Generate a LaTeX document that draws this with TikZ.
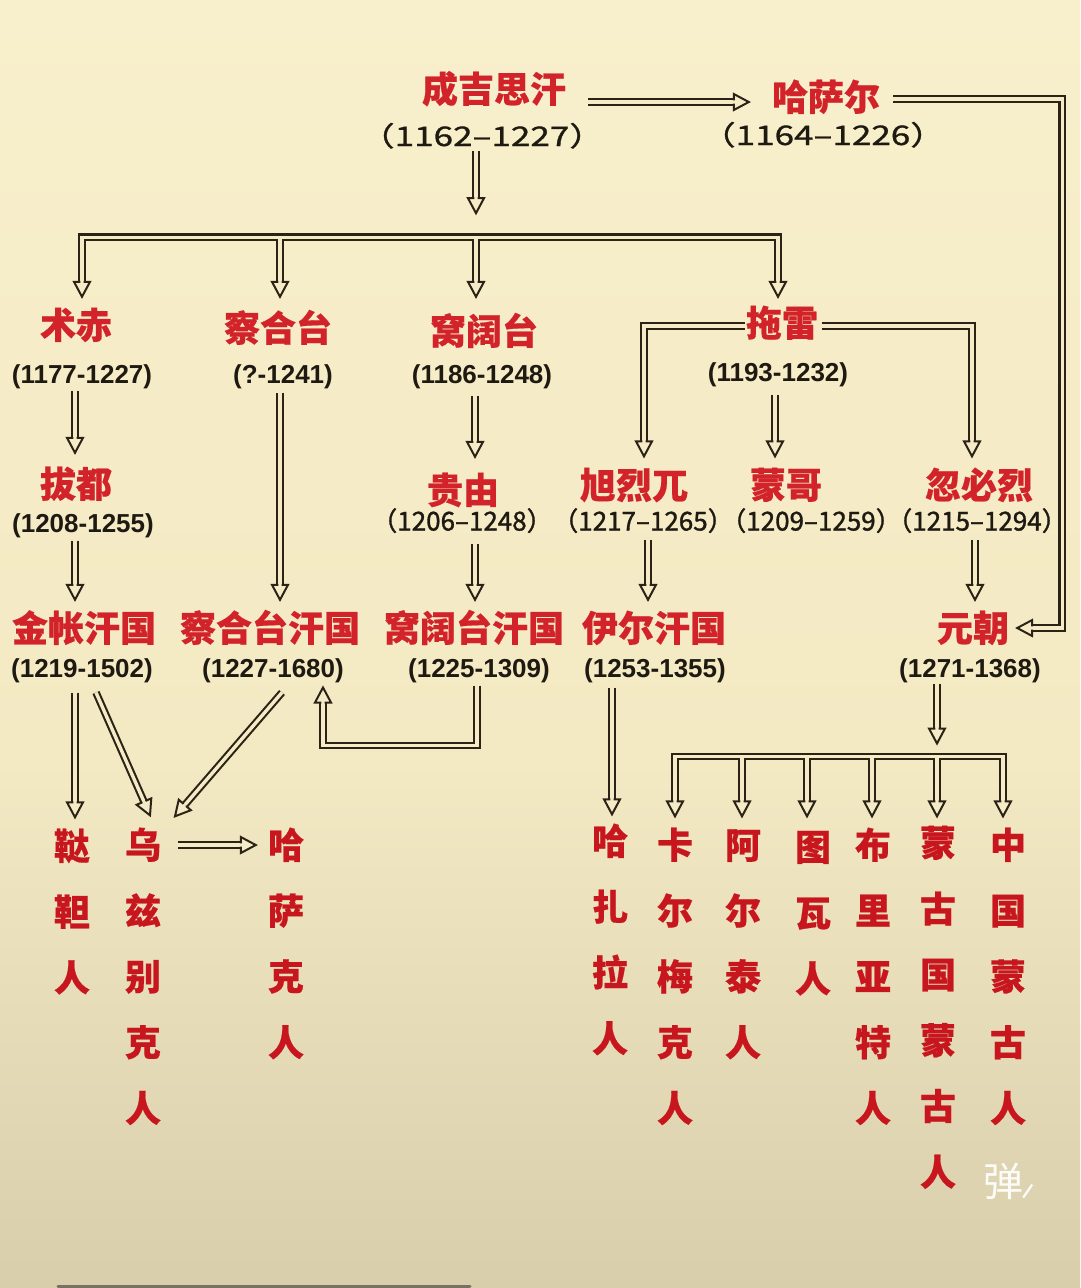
\documentclass[tikz,border=0pt]{standalone}
\usepackage{fontspec}
\usetikzlibrary{calc}
\newfontfamily\cjk{Noto Sans CJK SC}[BoldFeatures={FakeBold=0.5}]
\newfontfamily\cjkd{Noto Sans CJK SC}[FakeBold=1.3]
\newfontfamily\cjkwide{Noto Sans CJK SC}[FakeStretch=1.3, FakeBold=1.1]
\newfontfamily\arl{Liberation Sans}
\definecolor{bgtop}{HTML}{F8EFCC}
\definecolor{bgmid}{HTML}{F3E9C3}
\definecolor{bgbot}{HTML}{D8CEAC}
\definecolor{innerc}{HTML}{F5ECC7}
\definecolor{arc}{HTML}{2B2416}
\definecolor{nred}{HTML}{D2232A}
\definecolor{bred}{HTML}{C8161F}
\definecolor{datec}{HTML}{1E1A12}
\tikzset{
  nm/.style={font=\cjk\bfseries\fontsize{36}{36}\selectfont, text=nred, inner sep=0pt, text height=30pt, text depth=3pt},
  dtA/.style={font=\arl\bfseries\fontsize{26}{26}\selectfont, text=datec, inner sep=0pt, text height=18.6pt, text depth=0pt},
  dtB/.style={font=\cjkd\fontsize{26}{26}\selectfont, text=datec, inner sep=0pt, text height=19pt, text depth=0pt},
  dtW/.style={font=\cjkwide\fontsize{27}{27}\selectfont, text=datec, inner sep=0pt, text height=20pt, text depth=0pt},
  bt/.style={font=\cjk\bfseries\fontsize{36}{36}\selectfont, text=bred, inner sep=0pt, text height=30pt, text depth=3pt},
  dbl/.style={draw=arc, line width=2.1pt, double=innerc, double distance=3.4pt, line join=miter},
  hd/.pic={\path[fill=innerc, draw=arc, line width=2pt, line join=miter]
     (-15pt,1.7pt) -- (-15pt,8pt) -- (0pt,0pt) -- (-15pt,-8pt) -- (-15pt,-1.7pt);},
}
\newcommand\hdat[2]{\path let \p1=#1, \p2=#2, \n1={atan2(\y2-\y1,\x2-\x1)} in #2 pic[rotate=\n1]{hd};}
\newcommand\sarr[2]{\coordinate (aS) at #1; \coordinate (aT) at #2;
  \draw[dbl] (aS) -- ($(aT)!15pt!(aS)$); \hdat{(aS)}{(aT)}}
\begin{document}
\begin{tikzpicture}[x=1pt,y=-1pt]
\useasboundingbox (0,0) rectangle (1080,1288);
\shade[top color=bgtop, bottom color=bgmid] (0,0) rectangle (1080,761);
\shade[top color=bgmid, bottom color=bgbot] (0,760) rectangle (1080,1288);

% ---------- nodes ----------
\node[nm] (cj) at (494,89) {成吉思汗};
\node[dtW] (cjd) at (482,136) {（1162–1227）};
\node[nm] (hs) at (826,97) {哈萨尔};
\node[dtW] (hsd) at (823,135) {（1164–1226）};
\node[nm] (zc) at (76,325) {术赤};
\node[dtA] (zcd) at (82,374) {(1177-1227)};
\node[nm] (ch) at (278,328) {察合台};
\node[dtA] (chd) at (283,374) {(?-1241)};
\node[nm] (wk) at (484,331) {窝阔台};
\node[dtA] (wkd) at (482,374) {(1186-1248)};
\node[nm] (tl) at (782,323) {拖雷};
\node[dtA] (tld) at (778,372) {(1193-1232)};
\node[nm] (bd) at (76,484) {拔都};
\node[dtA] (bdd) at (83,523) {(1208-1255)};
\node[nm] (gy) at (463,490) {贵由};
\node[dtB] (gyd) at (462,521) {（1206–1248）};
\node[nm] (xl) at (634,485) {旭烈兀};
\node[dtB] (xld) at (643,521) {（1217–1265）};
\node[nm] (mg) at (786,485) {蒙哥};
\node[dtB] (mgd) at (811,521) {（1209–1259）};
\node[nm] (hb) at (979,485) {忽必烈};
\node[dtB] (hbd) at (977,521) {（1215–1294）};
\node[nm] (jz) at (84,628) {金帐汗国};
\node[dtA] (jzd) at (82,668) {(1219-1502)};
\node[nm] (chk) at (270,628) {察合台汗国};
\node[dtA] (chkd) at (273,668) {(1227-1680)};
\node[nm] (wkk) at (474,628) {窝阔台汗国};
\node[dtA] (wkkd) at (479,668) {(1225-1309)};
\node[nm] (ye) at (654,628) {伊尔汗国};
\node[dtA] (yed) at (655,668) {(1253-1355)};
\node[nm] (yc) at (973,628) {元朝};
\node[dtA] (ycd) at (970,668) {(1271-1368)};

\foreach \nmm/\xx/\yy/\txt in {da/72/846/{鞑,靼,人}, wu/143/845/{乌,兹,别,克,人},
   hsk/286/845/{哈,萨,克,人}, hz/610/841/{哈,扎,拉,人}, ka/675/845/{卡,尔,梅,克,人},
   at/743/845/{阿,尔,泰,人}, tw/813/847/{图,瓦,人}, bl/873/845/{布,里,亚,特,人},
   mgg/938/843/{蒙,古,国,蒙,古,人}, zg/1008/845/{中,国,蒙,古,人}}{
  \foreach \ch [count=\i] in \txt {
    \node[bt] (\nmm\i) at (\xx,{\yy+65.8*(\i-1)}) {\ch};
  }
}

% ---------- connectors ----------
% Genghis -> Qasar
\sarr{($(cj.east)+(22,13)$)}{($(hs.west)+(-23,5)$)}
% Qasar -> Yuan
\coordinate (tyc) at ($(yc.east)+(8,0)$);
\draw[dbl] ($(hs.east)+(13,2)$) -- ++(169,0) |- ($(tyc)+(15,0)$);
\hdat{($(tyc)+(40,0)$)}{(tyc)}
% Genghis -> sons
\coordinate (bar1) at ($(cjd.south)+(-6,91)$);
\sarr{($(cjd.south)+(-6,5)$)}{($(bar1)+(0,-24)$)}
\coordinate (tzc) at ($(zc.north)+(6,-11.5)$);
\coordinate (tch) at ($(ch.north)+(2,-14.5)$);
\coordinate (twk) at ($(wk.north)+(-8,-17.5)$);
\coordinate (ttl) at ($(tl.north)+(-4,-9.5)$);
\draw[dbl] ($(tzc)+(0,-15)$) |- (bar1) -| ($(ttl)+(0,-15)$)
  (tch |- bar1) -- ($(tch)+(0,-15)$)
  (bar1) -- ($(twk)+(0,-15)$);
\foreach \t in {tzc,tch,twk,ttl}{\hdat{($(\t)+(0,-30)$)}{(\t)}}
% Jochi line
\sarr{($(zcd.south)+(-7,7)$)}{($(bd.north)+(-1,-14.5)$)}
\sarr{($(bdd.south)+(-8,8)$)}{($(jz.north)+(-9,-11.5)$)}
% Chagatai
\sarr{($(chd.south)+(-3,9)$)}{($(chk.north)+(10,-11.5)$)}
% Ogedei
\sarr{($(wkd.south)+(-7,12)$)}{($(gy.north)+(12,-16.5)$)}
\sarr{($(gyd.south)+(13,13.5)$)}{($(wkk.north)+(1,-11.5)$)}
% Tolui
\coordinate (txl) at ($(xl.north)+(10,-12)$);
\coordinate (thb) at ($(hb.north)+(-7,-12)$);
\draw[dbl] ($(tl.west)+(-1,3)$) -| ($(txl)+(0,-15)$);
\draw[dbl] ($(tl.east)+(4,3)$) -| ($(thb)+(0,-15)$);
\hdat{($(txl)+(0,-40)$)}{(txl)}
\hdat{($(thb)+(0,-40)$)}{(thb)}
\sarr{($(tld.south)+(-3,13.5)$)}{($(mg.north)+(-11,-12)$)}
\sarr{($(xld.south)+(5,9.5)$)}{($(ye.north)+(-6,-11.5)$)}
\sarr{($(hbd.south)+(-2,9.5)$)}{($(yc.north)+(2,-11.5)$)}
% Golden Horde / Chagatai Khanate -> peoples
\sarr{($(jzd.south)+(-7,15)$)}{($(da1.north)+(3,-12)$)}
\sarr{($(jzd.south)+(14,15)$)}{($(wu1.north)+(7,-13)$)}
\sarr{($(chkd.south)+(9,15)$)}{($(wu1.north)+(32,-12)$)}
\sarr{($(wu1.east)+(17,0)$)}{($(hsk1.west)+(-12,0)$)}
% Ogedei Khanate -> Chagatai Khanate
\coordinate (tchk) at ($(chkd.south)+(50,10)$);
\draw[dbl] ($(wkkd.south)+(-2,8)$) -- ++(0,60) -| ($(tchk)+(0,15)$);
\hdat{($(tchk)+(0,40)$)}{(tchk)}
% Ilkhanate -> Hazara
\sarr{($(yed.south)+(-43,10)$)}{($(hz1.north)+(2,-10)$)}
% Yuan -> peoples
\coordinate (bar2) at ($(ycd.south)+(-33,79)$);
\sarr{($(ycd.south)+(-33,6)$)}{($(bar2)+(0,-13)$)}
\coordinate (tka) at ($(ka1.north)+(0,-12)$);
\coordinate (tat) at ($(at1.north)+(-1,-12)$);
\coordinate (ttw) at ($(tw1.north)+(-6,-14)$);
\coordinate (tbl) at ($(bl1.north)+(-1,-12)$);
\coordinate (tmg) at ($(mgg1.north)+(-1,-10)$);
\coordinate (tzg) at ($(zg1.north)+(-5,-12)$);
\draw[dbl] ($(tka)+(0,-15)$) |- (bar2) -| ($(tzg)+(0,-15)$)
  (tat |- bar2) -- ($(tat)+(0,-15)$)
  (ttw |- bar2) -- ($(ttw)+(0,-15)$)
  (tbl |- bar2) -- ($(tbl)+(0,-15)$)
  (tmg |- bar2) -- ($(tmg)+(0,-15)$);
\foreach \t in {tka,tat,ttw,tbl,tmg,tzg}{\hdat{($(\t)+(0,-30)$)}{(\t)}}

% ---------- overlay ----------
\node[font=\cjk\fontsize{40}{40}\selectfont, text=white!92!bgbot, inner sep=0pt] (dan) at (1003,1181) {弹};
\draw[white!92!bgbot, line width=2.2pt] ($(dan.south east)+(0,-2)$) -- ++(9,-13);
\draw[line width=3pt, color=black!45!bgbot, line cap=round] (58,1286.5) -- (470,1286.5);
\end{tikzpicture}
\end{document}
